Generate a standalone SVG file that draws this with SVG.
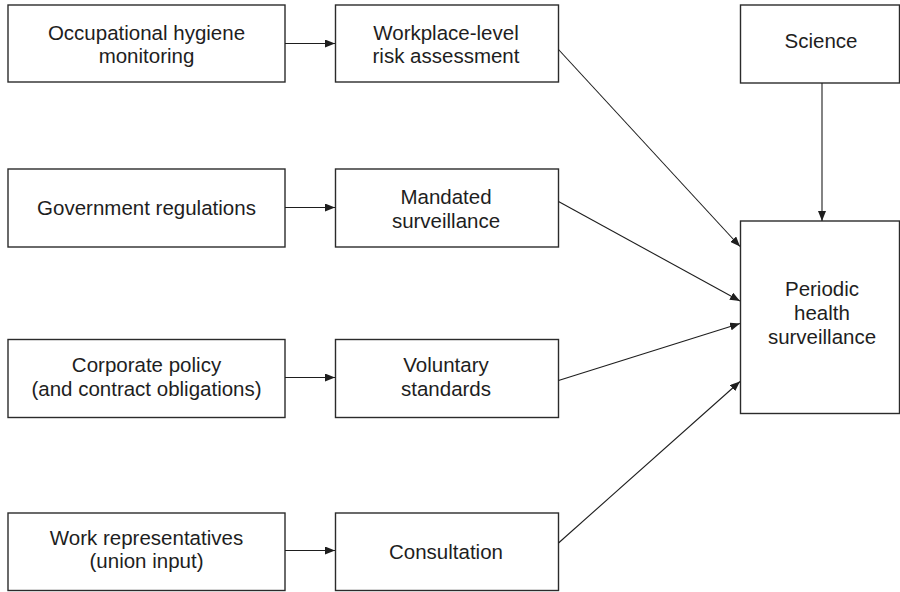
<svg xmlns="http://www.w3.org/2000/svg" width="900" height="592" viewBox="0 0 900 592">
  <style>
    .box { fill: #ffffff; stroke: #2b2b2b; stroke-width: 1.4; }
    .lbl { font-family: "Liberation Sans", Arial, sans-serif; font-size: 20.5px; fill: #1e1e1e; text-anchor: middle; }
    .edge { fill: none; stroke: #1e1e1e; stroke-width: 1.1; marker-end: url(#arrow); }
  </style>
  <defs>
    <marker id="arrow" viewBox="0 0 10 8" refX="10" refY="4" markerWidth="10" markerHeight="8" markerUnits="userSpaceOnUse" orient="auto">
      <path d="M0,0 L10,4 L0,8 Z" fill="#1e1e1e"/>
    </marker>
  </defs>
  <rect width="900" height="592" fill="#ffffff"/>

  <!-- left column: sources -->
  <g id="hygiene">
    <rect class="box" x="8" y="5" width="277" height="77"/>
    <text class="lbl" x="146.5" y="39.5">Occupational hygiene</text>
    <text class="lbl" x="146.5" y="62.5">monitoring</text>
  </g>
  <g id="regulations">
    <rect class="box" x="8" y="169" width="277" height="78"/>
    <text class="lbl" x="146.5" y="215">Government regulations</text>
  </g>
  <g id="corporate">
    <rect class="box" x="8" y="339.5" width="277" height="78"/>
    <text class="lbl" x="146.5" y="372">Corporate policy</text>
    <text class="lbl" x="146.5" y="395.5">(and contract obligations)</text>
  </g>
  <g id="representatives">
    <rect class="box" x="8" y="513" width="277" height="77.5"/>
    <text class="lbl" x="146.5" y="544.5">Work representatives</text>
    <text class="lbl" x="146.5" y="567.5">(union input)</text>
  </g>

  <!-- middle column -->
  <g id="risk">
    <rect class="box" x="335.5" y="5" width="223" height="77"/>
    <text class="lbl" x="446" y="39.5">Workplace-level</text>
    <text class="lbl" x="446" y="62.5">risk assessment</text>
  </g>
  <g id="mandated">
    <rect class="box" x="335.5" y="169" width="223" height="78"/>
    <text class="lbl" x="446" y="204">Mandated</text>
    <text class="lbl" x="446" y="227.5">surveillance</text>
  </g>
  <g id="voluntary">
    <rect class="box" x="335.5" y="339.5" width="223" height="78"/>
    <text class="lbl" x="446" y="372">Voluntary</text>
    <text class="lbl" x="446" y="395.5">standards</text>
  </g>
  <g id="consultation">
    <rect class="box" x="335.5" y="513" width="223" height="77.5"/>
    <text class="lbl" x="446" y="558.5">Consultation</text>
  </g>

  <!-- right column -->
  <g id="science">
    <rect class="box" x="740.5" y="5" width="159" height="78"/>
    <text class="lbl" x="821" y="48">Science</text>
  </g>
  <g id="periodic">
    <rect class="box" x="740.5" y="221" width="159" height="192.5"/>
    <text class="lbl" x="822" y="296">Periodic</text>
    <text class="lbl" x="822" y="320">health</text>
    <text class="lbl" x="822" y="344">surveillance</text>
  </g>

  <g id="connectors">
    <line class="edge" x1="285" y1="43.5" x2="335" y2="43.5"/>
    <line class="edge" x1="285" y1="207.5" x2="335" y2="207.5"/>
    <line class="edge" x1="285" y1="377.5" x2="335" y2="377.5"/>
    <line class="edge" x1="285" y1="550.5" x2="335" y2="550.5"/>
    <line class="edge" x1="558.5" y1="49.5" x2="740" y2="246.5"/>
    <line class="edge" x1="558.5" y1="201.5" x2="740" y2="301"/>
    <line class="edge" x1="558.5" y1="380.5" x2="740" y2="323.5"/>
    <line class="edge" x1="558.5" y1="543" x2="740" y2="381.5"/>
    <line class="edge" x1="822" y1="83" x2="822" y2="221"/>
  </g>
</svg>
